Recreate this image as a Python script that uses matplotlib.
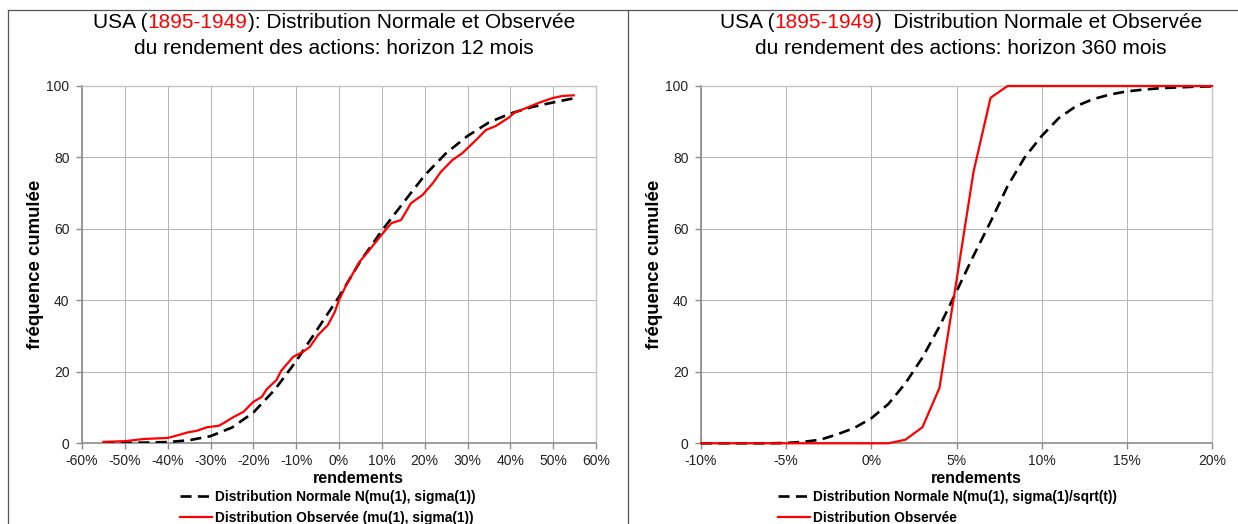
import matplotlib
matplotlib.use("Agg")
import matplotlib.pyplot as plt
from matplotlib.transforms import IdentityTransform
from matplotlib.lines import Line2D
from matplotlib.ticker import FuncFormatter

plt.rcParams['font.family'] = ['Liberation Sans', 'DejaVu Sans']

# ---------------- data ----------------
# Left panel: horizon 12 months
left_norm_x = [-55, -50, -45, -40, -35, -30, -25, -20, -15, -10, -5, 0, 5, 10, 15, 20, 25, 30, 35, 40, 45, 50, 55]
left_norm_y = [0.05, 0.1, 0.2, 0.35, 0.85, 2.0, 4.4, 8.6, 15.0, 23.0, 32.0, 41.0, 51.0, 59.5, 67.3, 75.0, 81.2, 86.0, 89.8, 92.3, 94.1, 95.4, 96.6]

left_obs_x = [-55, -50, -45.6, -40, -37.8, -35.5, -33.2, -30.8, -28.1, -27, -24.7, -22.3, -20, -18, -16.9,
              -14.6, -13.5, -10.7, -8.4, -6.8, -4.9, -2.6, -1, 0, 1.7, 4.8, 7.1, 9.9, 12.2, 14.5, 16.8, 19.5,
              21.9, 23.8, 26.5, 28.8, 32.0, 34.3, 36.6, 39.7, 40.9, 43.6, 46.7, 49.8, 52.1, 54.8]
left_obs_y = [0.4, 0.6, 1.2, 1.5, 2.2, 3.0, 3.5, 4.5, 4.9, 5.6, 7.3, 8.8, 11.6, 13.0, 15.1,
              17.7, 20.3, 24.2, 25.6, 27.0, 30.3, 33.1, 36.7, 40.1, 44.3, 50.8, 54.1, 58.3, 61.6, 62.5, 67.2, 69.5,
              72.8, 76.0, 79.3, 81.2, 84.9, 87.7, 88.8, 91.2, 92.5, 93.8, 95.3, 96.6, 97.2, 97.4]

# Right panel: horizon 360 months
right_x = [-10, -9, -8, -7, -6, -5, -4, -3, -2, -1, 0, 1, 2, 3, 4, 5, 6, 7, 8, 9, 10,
           11, 12, 13, 14, 15, 16, 17, 18, 19, 20]
right_norm_y = [0, 0, 0, 0, 0, 0.1, 0.4, 1.0, 2.5, 4.3, 7.0, 11.0, 16.8, 24.0, 32.7, 42.5, 52.5, 62.0, 72.0, 80.0, 86.0,
                91.0, 94.3, 96.3, 97.6, 98.5, 99.0, 99.4, 99.6, 99.8, 99.9]
right_obs_y = [0, 0, 0, 0, 0, 0, 0, 0, 0, 0, 0, 0, 1.0, 4.5, 15.5, 45.5, 76.0, 96.7, 100, 100, 100,
               100, 100, 100, 100, 100, 100, 100, 100, 100, 100]

left_xticks = [-60, -50, -40, -30, -20, -10, 0, 10, 20, 30, 40, 50, 60]
right_xticks = [-10, -5, 0, 5, 10, 15, 20]
yticks = [0, 20, 40, 60, 80, 100]

left_title = [[("USA (", "black"), ("1895-1949", "red"), ("): Distribution Normale et Observée", "black")],
              [("du rendement des actions: horizon 12 mois", "black")]]
right_title = [[("USA (", "black"), ("1895-1949", "red"), (")  Distribution Normale et Observée", "black")],
               [("du rendement des actions: horizon 360 mois", "black")]]
left_legend = ["Distribution Normale N(mu(1), sigma(1))", "Distribution Observée (mu(1), sigma(1))"]
right_legend = ["Distribution Normale N(mu(1), sigma(1)/sqrt(t))", "Distribution Observée"]

# ---------------- figure ----------------
W, H = 1238, 524
fig = plt.figure(figsize=(W / 100, H / 100), dpi=100)
fig.patch.set_facecolor('white')

def px_axes(x0, x1, ytop, ybot):
    return fig.add_axes([x0 / W, (H - ybot) / H, (x1 - x0) / W, (ybot - ytop) / H])

ax1 = px_axes(82, 596, 86, 443.3)
ax2 = px_axes(701, 1212, 86, 443.3)

dash = (0, (4.2, 2.4))
pct = FuncFormatter(lambda v, p: f"{v:.0f}%")

def style(ax, xticks, xlim):
    ax.set_xlim(*xlim)
    ax.set_ylim(0, 100)
    ax.set_xticks(xticks)
    ax.set_yticks(yticks)
    ax.xaxis.set_major_formatter(pct)
    ax.grid(True, color='#b4b4b4', lw=0.7)
    ax.set_axisbelow(True)
    for s in ['left', 'bottom']:
        ax.spines[s].set_color('#8c8c8c')
        ax.spines[s].set_linewidth(1.2)
    for s in ['top', 'right']:
        ax.spines[s].set_color('#c4c4c4')
        ax.spines[s].set_linewidth(1.0)
    ax.tick_params(direction='out', length=4, width=1, color='#8c8c8c',
                   labelsize=10, labelcolor='#222222', pad=5)
    ax.tick_params(axis='x', pad=3.5)
    ax.set_ylabel("fréquence cumulée", fontsize=13.4, fontweight='bold', labelpad=1.5)
    ax.set_xlabel("rendements", fontsize=11.5, fontweight='bold')
    ax.xaxis.set_label_coords(0.538, -0.077)

ax1.plot(left_norm_x, left_norm_y, color='black', lw=1.9, ls=dash, zorder=3)
ax1.plot(left_obs_x, left_obs_y, color='#ff0000', lw=1.6, zorder=4)
style(ax1, left_xticks, (-60, 60))

ax2.plot(right_x, right_norm_y, color='black', lw=1.9, ls=dash, zorder=3, clip_on=False)
ax2.plot(right_x, right_obs_y, color='#ff0000', lw=1.6, zorder=4, clip_on=False)
style(ax2, right_xticks, (-10, 20))

for ax, labels, xleft in [(ax1, left_legend, 180), (ax2, right_legend, 778)]:
    handles = [Line2D([], [], color='black', lw=1.9, ls=dash),
               Line2D([], [], color='#ff0000', lw=1.6)]
    fig.legend(handles, labels, loc='upper left', bbox_to_anchor=(xleft / W, 1 - 490 / H),
               bbox_transform=fig.transFigure,
               frameon=False, prop={'weight': 'bold', 'size': 9.9},
               handlelength=2.3, handletextpad=0.25, labelspacing=0.5, borderpad=0,
               borderaxespad=0)

# ---------------- titles with coloured parts ----------------
fig.canvas.draw()
renderer = fig.canvas.get_renderer()

def color_line(xc, yc_top, parts, fs=15):
    texts = []
    for s, c in parts:
        t = fig.text(0, 0, s, color=c, fontsize=fs, transform=IdentityTransform(),
                     ha='left', va='center')
        texts.append(t)
    widths = [t.get_window_extent(renderer).width for t in texts]
    x = xc - sum(widths) / 2
    for t, w in zip(texts, widths):
        t.set_position((x, H - yc_top))
        x += w

for xc, lines in [(334, left_title), (961, right_title)]:
    color_line(xc, 23, lines[0])
    color_line(xc, 48, lines[1])

# panel frames
fig.add_artist(Line2D([8 / W, 1.0], [1 - 10 / H, 1 - 10 / H], color='#555555', lw=0.9))
fig.add_artist(Line2D([8 / W, 8 / W], [0, 1 - 10 / H], color='#555555', lw=0.9))
fig.add_artist(Line2D([628 / W, 628 / W], [0, 1 - 10 / H], color='#555555', lw=0.9))

fig.savefig("out.png", dpi=100, facecolor='white')
